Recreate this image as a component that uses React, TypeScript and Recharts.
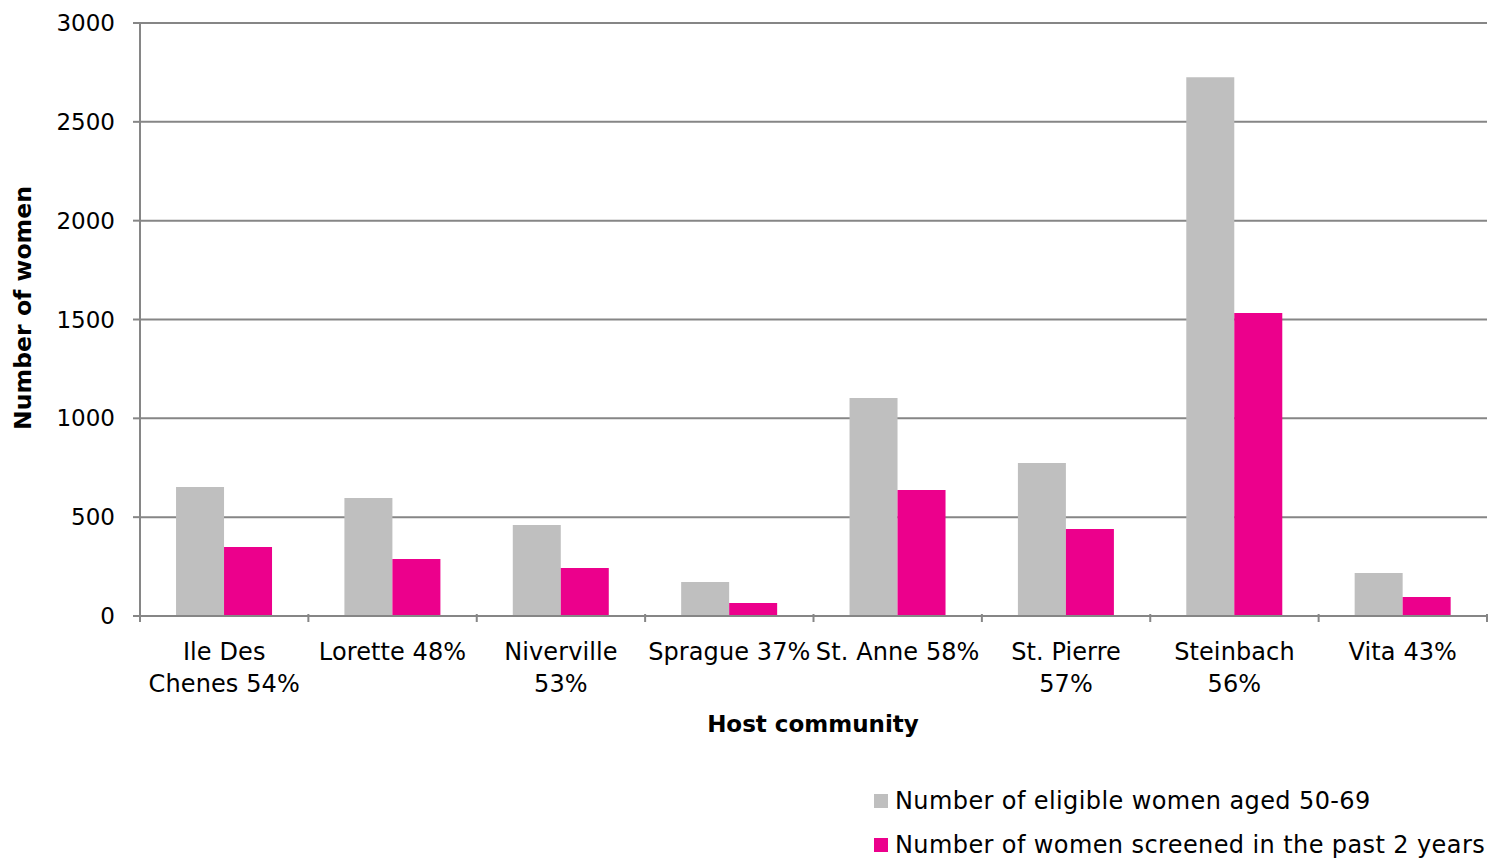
import * as React from "react"
import { BarChart, Bar, XAxis, YAxis, CartesianGrid } from "recharts"

const categories = [
  "Ile Des\nChenes 54%",
  "Lorette 48%",
  "Niverville\n53%",
  "Sprague 37%",
  "St. Anne 58%",
  "St. Pierre\n57%",
  "Steinbach\n56%",
  "Vita 43%",
]
const eligible = [652, 597, 460, 172, 1103, 774, 2726, 217]
const screened = [349, 288, 243, 66, 637, 440, 1533, 96]
const yTicks = [0, 500, 1000, 1500, 2000, 2500, 3000]

const seriesNames = {
  eligible: "Number of eligible women aged 50-69",
  screened: "Number of women screened in the past 2 years",
}

const GRAY = "#bfbfbf"
const PINK = "#ec008c"
const LINE = "#868686"
const FONT = "'DejaVu Sans', sans-serif"
const SPACING = 0.4

const data = categories.map((name, i) => ({
  name,
  eligible: eligible[i],
  screened: screened[i],
}))

function CategoryTick(props: any) {
  const { x, y, payload, index, visibleTicksCount } = props
  const half = payload.offset || 0
  const lines = String(payload.value).split("\n")
  return (
    <g>
      <line x1={x - half} x2={x - half} y1={y - 10} y2={y - 2} stroke={LINE} strokeWidth={2} />
      {index === visibleTicksCount - 1 && (
        <line x1={x + half} x2={x + half} y1={y - 10} y2={y - 2} stroke={LINE} strokeWidth={2} />
      )}
      <text x={x} y={y + 36} textAnchor="middle" fill="#000" fontSize={24} fontFamily={FONT} letterSpacing={0.1}>
        {lines.map((l, i) => (
          <tspan key={i} x={x} dy={i === 0 ? 0 : 32}>
            {l}
          </tspan>
        ))}
      </text>
    </g>
  )
}

function LegendBox() {
  const items = [
    { label: seriesNames.eligible, color: GRAY },
    { label: seriesNames.screened, color: PINK },
  ]
  return (
    <div
      style={{
        position: "absolute",
        left: 874,
        top: 779,
        fontFamily: FONT,
        fontSize: 24,
        letterSpacing: SPACING,
        color: "#000",
        whiteSpace: "nowrap",
      }}
    >
      {items.map((it) => (
        <div key={it.label} style={{ display: "flex", alignItems: "center", height: 44 }}>
          <span style={{ width: 14, height: 14, background: it.color, marginRight: 7, display: "inline-block" }} />
          <span>{it.label}</span>
        </div>
      ))}
    </div>
  )
}

export default function App() {
  return (
    <div style={{ position: "absolute", left: 0, top: 0, width: 1499, height: 858, background: "#fff" }}>
      <BarChart
        width={1499}
        height={858}
        data={data}
        margin={{ top: 23, right: 12, bottom: 122, left: 0 }}
        barGap={0}
        barCategoryGap="21.4%"
      >
        <CartesianGrid vertical={false} stroke={LINE} strokeWidth={2} />
        <XAxis
          dataKey="name"
          axisLine={{ stroke: LINE, strokeWidth: 2 }}
          tickLine={false}
          tick={<CategoryTick />}
          interval={0}
          height={120}
        />
        <YAxis
          width={140}
          domain={[0, 3000]}
          ticks={yTicks}
          axisLine={{ stroke: LINE, strokeWidth: 2 }}
          tickLine={{ stroke: LINE, strokeWidth: 2 }}
          tickSize={7}
          tickMargin={18}
          tick={{ fill: "#000", fontSize: 23, fontFamily: FONT }}
        />
        <Bar dataKey="eligible" name={seriesNames.eligible} fill={GRAY} isAnimationActive={false} />
        <Bar dataKey="screened" name={seriesNames.screened} fill={PINK} isAnimationActive={false} />
        <text x={813} y={732} textAnchor="middle" fontSize={23} fontWeight="bold" fontFamily={FONT} fill="#000">
          Host community
        </text>
        <text
          x={31}
          y={308}
          textAnchor="middle"
          fontSize={23.6}
          fontWeight="bold"
          fontFamily={FONT}
          fill="#000"
          transform="rotate(-90 31 308)"
        >
          Number of women
        </text>
      </BarChart>
      <LegendBox />
    </div>
  )
}
